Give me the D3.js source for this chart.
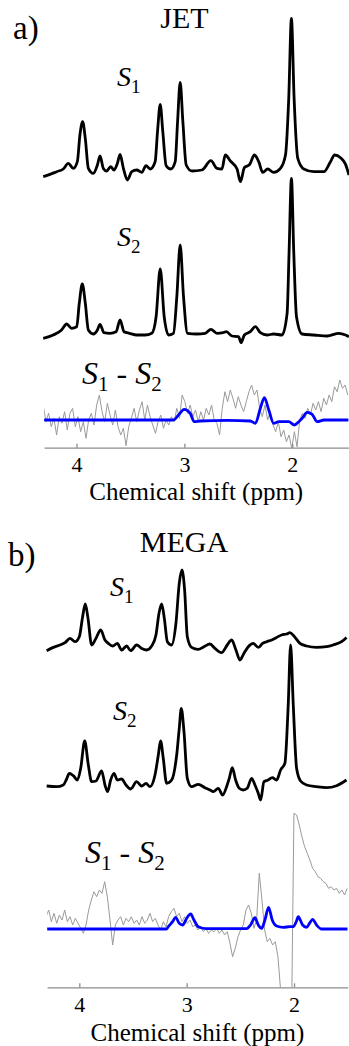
<!DOCTYPE html>
<html>
<head>
<meta charset="utf-8">
<script src="https://cdn.jsdelivr.net/npm/d3@7"></script>
<style>
  body { margin: 0; background: #fff; }
  svg { display: block; }
  text { font-family: "Liberation Serif", "Times New Roman", serif; fill: #000; white-space: pre; }
</style>
</head>
<body>
<svg id="chart" width="349" height="1046"></svg>
<script>
// ---- data (ppm, intensity a.u.) ----
const ppmTicks = [4, 3, 2];
const axisTitle = "Chemical shift (ppm)";

const jetS1 = [[4.308,-5],[4.246,-2.7],[4.184,0],[4.122,2.7],[4.076,8.3],[4.029,3.3],[3.992,10],[3.968,36.7],[3.943,50],[3.918,33],[3.890,3.3],[3.844,-1.7],[3.806,6.7],[3.782,15.7],[3.751,3.3],[3.720,0.7],[3.683,5],[3.652,1.7],[3.621,8.3],[3.596,17.3],[3.565,3.3],[3.528,-8.3],[3.488,0],[3.441,1.7],[3.395,-0.7],[3.355,6],[3.317,2.7],[3.271,10],[3.249,40],[3.224,67.3],[3.200,40],[3.169,6],[3.125,2.7],[3.085,10],[3.063,50],[3.039,89.3],[3.014,50],[2.983,6.7],[2.930,0.7],[2.838,1.7],[2.754,11],[2.698,3.3],[2.652,2.7],[2.621,16.7],[2.574,10.7],[2.512,2.7],[2.481,-10],[2.444,4],[2.395,7.3],[2.351,16.7],[2.311,10],[2.274,-0.7],[2.228,2.7],[2.172,-0.7],[2.110,3.3],[2.063,16.7],[2.033,73],[2.008,153.3],[1.983,73],[1.949,13.3],[1.893,2.7],[1.800,0],[1.707,0],[1.646,10],[1.608,16.7],[1.553,14],[1.506,7.3],[1.475,-3.3]];

const jetS2 = [[4.308,-3.3],[4.215,0],[4.138,5],[4.091,11],[4.045,6.7],[3.998,8.3],[3.974,31.7],[3.946,51],[3.918,31.7],[3.890,5],[3.844,1],[3.806,5],[3.782,10.7],[3.745,2.3],[3.689,1.7],[3.633,3.3],[3.596,15],[3.559,3.3],[3.509,1.7],[3.441,0],[3.364,0],[3.302,1.7],[3.262,18.3],[3.224,66],[3.187,18.3],[3.147,0],[3.101,1.7],[3.070,38.3],[3.039,90],[3.008,38.3],[2.971,1.7],[2.884,1],[2.807,1.7],[2.754,5.7],[2.698,1.7],[2.642,2.3],[2.611,3.3],[2.559,-1],[2.497,-1.7],[2.475,-7.7],[2.444,0],[2.389,3.3],[2.342,8.3],[2.296,2.3],[2.234,0],[2.172,1],[2.095,0],[2.048,21.7],[2.030,81.7],[2.008,156.7],[1.986,81.7],[1.961,18.3],[1.909,1],[1.800,0],[1.677,-1],[1.568,1.7],[1.506,0],[1.475,-1.7]];

const jetFit = [[4.30,0],[3.101,0],[3.054,5],[3.002,10.7],[2.946,6.7],[2.909,-1.7],[2.853,-1],[2.605,-0.3],[2.389,-1],[2.342,-3.3],[2.296,11.7],[2.259,22.3],[2.218,10],[2.172,-3.3],[2.125,-1.7],[2.033,-1.7],[1.980,-5],[1.940,-1.7],[1.909,1.7],[1.862,7.7],[1.816,5.7],[1.769,-1.7],[1.707,0],[1.475,0]];

// difference spectrum, sampled on a regular ppm grid
const jetDiffStart = 4.308, jetDiffStep = 0.02476;
const jetDiff = [15,-1.7,6.7,-6.7,1.7,-15,3.3,-3.3,8.3,-10,6.7,11.7,-6.7,3.3,-11.7,-1.7,-18.3,0,6.7,-5,15,25,8.3,-1.7,16.7,5,-5,10,-6.7,-15,-8.3,-25.7,-6.7,1.7,11.7,-1.7,10,18.3,0,15,3.3,-5,-13.3,-1.7,5,-8.3,0,-5,3.3,-1.7,11.7,1.7,25,18.3,6.7,15,3.3,10,-1.7,8.3,0,11.7,5,15,0,-3.3,-15,11.7,28.3,18.3,30,21.7,11.7,23.3,15,8.3,18.3,28.3,35,25,30,11.7,3.3,15,0,8.3,-5,-11.7,-1.7,-16.7,-10,-21.7,-15,-28.3,-11.7,-26.7,0,6.7,1.7,11.7,5,16.7,10,18.3,8.3,21.7,15,25,18.3,33.3,28.3,40,31.7,35,25];

const megaS1 = [[4.304,-4],[4.242,-0.7],[4.180,1.7],[4.133,4],[4.087,8.3],[4.040,5],[4.000,10],[3.969,30],[3.944,42.7],[3.919,28.3],[3.885,1.7],[3.845,8.3],[3.801,16.7],[3.761,6.7],[3.730,3.3],[3.689,0.7],[3.646,3.3],[3.606,-3.3],[3.559,0.7],[3.522,-4],[3.466,1.7],[3.419,-1.7],[3.373,-3.3],[3.326,0.7],[3.286,11.7],[3.258,33.3],[3.233,42.7],[3.208,28.3],[3.180,5],[3.140,1.7],[3.100,23.3],[3.069,63.3],[3.044,76.7],[3.019,56.7],[2.994,10],[2.954,-0.7],[2.892,-2.7],[2.839,0],[2.783,2.7],[2.737,-1.7],[2.675,-6],[2.622,1.7],[2.581,6.7],[2.541,-3.3],[2.504,-13.3],[2.467,-6.7],[2.426,0],[2.380,3.3],[2.333,-0.7],[2.293,3.3],[2.256,5],[2.209,6.7],[2.162,9.3],[2.116,11.7],[2.069,12.7],[2.038,14],[2.001,10.7],[1.945,3.3],[1.883,0.7],[1.790,-0.7],[1.697,0],[1.635,1.7],[1.557,5],[1.511,9.3]];

const megaS2 = [[4.304,0],[4.211,-0.7],[4.149,1],[4.118,7],[4.093,12.7],[4.056,10.3],[4.018,6],[3.987,17.7],[3.950,45],[3.916,21],[3.885,4.3],[3.845,5],[3.792,15],[3.761,1],[3.736,-5.7],[3.708,6],[3.677,12.7],[3.646,6],[3.606,7],[3.565,1],[3.522,-3],[3.466,4.3],[3.419,0],[3.379,2.7],[3.342,-0.7],[3.295,11],[3.264,31],[3.243,45],[3.218,27.7],[3.187,2.7],[3.140,6],[3.093,31],[3.069,57.7],[3.050,77.7],[3.025,54.3],[2.994,7.7],[2.954,-0.7],[2.892,1.7],[2.830,-1.7],[2.783,-4],[2.752,-5.7],[2.706,-2.3],[2.665,-9],[2.628,-0.7],[2.603,7.7],[2.575,18.3],[2.544,6],[2.510,-2.3],[2.473,-4],[2.436,-2.3],[2.395,7.7],[2.364,1],[2.333,-7.3],[2.311,-14],[2.280,4.3],[2.240,6],[2.203,8.3],[2.162,6],[2.125,16],[2.085,22.7],[2.054,81],[2.032,141],[2.007,81],[1.976,17.7],[1.939,5],[1.883,1],[1.790,-0.7],[1.697,-1.7],[1.604,0.3],[1.511,6]];

const megaFit = [[4.30,0],[3.187,0],[3.171,2.3],[3.131,7.3],[3.103,11.7],[3.069,5.7],[3.038,4],[3.000,10.7],[2.963,15],[2.932,9],[2.892,2.3],[2.814,0.3],[2.442,0.3],[2.405,4],[2.364,11.3],[2.333,4],[2.302,0.7],[2.271,9],[2.237,21.7],[2.203,9],[2.162,3],[2.100,1.7],[2.038,2.3],[2.007,2.3],[1.976,8.3],[1.961,12.3],[1.920,4],[1.883,1.7],[1.852,6.3],[1.827,9.7],[1.790,4],[1.743,0],[1.50,0]];

const megaDiffStart = 4.310, megaDiffStep = 0.02483;
const megaDiff = [12.3,19,7.3,15.7,5.7,14,9,19,7.3,12.3,4,10.7,5.7,0.7,-4.3,4,19,29,37.3,32.3,39,35.7,47.3,32.3,9,-16,4,9,12.3,4,10.7,7.3,12.3,5.7,9,4,12.3,5.7,9,15.7,7.3,10.7,4,-1,7.3,2.3,12.3,17.3,20.7,12.3,15.7,7.3,12.3,5.7,9,2.3,4,-1,2.3,-2.7,0.7,-4.3,-1,-2.7,0.7,-4.3,-1,-6,-2.7,-14.3,-27.7,-19.3,-7.7,-1,4,19,24,15.7,0.7,9,55.7,29,-1,-12.7,-9.3,-16,-12.7,-27.7,-61,-81,-97.7,-107.7,-114.3,115.7,114,104,92.3,82.3,75.7,69,60.7,57.3,52.3,50.7,47.3,45.7,40.7,42.3,39,40.7,35.7,39,34,40.7];

// ---- layout ----
const panels = [
  { tag: "a)", title: "JET", domain: [4.3, 1.48], range: [44.1, 348.4], axisY: 447.7,
    tagAt: [13, 39], titleAt: [184.5, 28], xTitleY: 500,
    spectra: [
      { data: jetS1, y0: 171.7, sub: "1", at: [117, 86] },
      { data: jetS2, y0: 335, sub: "2", at: [117, 246] }
    ],
    diff: { values: jetDiff, start: jetDiffStart, step: jetDiffStep, fit: jetFit, y0: 420, at: [82, 384] } },
  { tag: "b)", title: "MEGA", domain: [4.3, 1.5], range: [47.1, 347.7], axisY: 987.3,
    tagAt: [8, 566], titleAt: [184, 551.5], xTitleY: 1041,
    spectra: [
      { data: megaS1, y0: 646.7, sub: "1", at: [110, 596] },
      { data: megaS2, y0: 786, sub: "2", at: [113, 720] }
    ],
    diff: { values: megaDiff, start: megaDiffStart, step: megaDiffStep, fit: megaFit, y0: 929, at: [85, 863] } }
];

const svg = d3.select("#chart");
const defs = svg.append("defs");

function sLabel(g, at, parts, big, small) {
  const t = g.append("text").attr("x", at[0]).attr("y", at[1]).style("font-size", big + "px");
  let shifted = false;
  parts.forEach(p => {
    if (p.type === "S") {
      t.append("tspan").text("S").style("font-style", "italic")
        .attr("dy", shifted ? -7 : null);
      shifted = false;
    } else if (p.type === "sub") {
      t.append("tspan").text(p.text).style("font-size", small + "px").attr("dy", 7);
      shifted = true;
    } else {
      t.append("tspan").text(p.text).attr("dy", shifted ? -7 : null);
      shifted = false;
    }
  });
}

panels.forEach((p, pi) => {
  const x = d3.scaleLinear().domain(p.domain).range(p.range);
  const g = svg.append("g");

  g.append("text").attr("x", p.tagAt[0]).attr("y", p.tagAt[1])
    .style("font-size", "33px").text(p.tag);
  g.append("text").attr("x", p.titleAt[0]).attr("y", p.titleAt[1])
    .attr("text-anchor", "middle").style("font-size", "30px").text(p.title);

  // stacked spectra
  p.spectra.forEach(s => {
    const y = d3.scaleLinear().domain([0, 100]).range([s.y0, s.y0 - 100]);
    const line = d3.line().x(d => x(d[0])).y(d => y(d[1])).curve(d3.curveMonotoneX);
    g.append("path").datum(s.data).attr("d", line)
      .attr("fill", "none").attr("stroke", "#000").attr("stroke-width", 2.8)
      .attr("stroke-linejoin", "round");
    sLabel(g, s.at, [{ type: "S" }, { type: "sub", text: s.sub }], 28, 19);
  });

  // difference spectrum + fit, clipped at the axis
  const d = p.diff;
  const clipId = "clip" + pi;
  defs.append("clipPath").attr("id", clipId).append("rect")
    .attr("x", p.range[0]).attr("y", p.axisY - 200)
    .attr("width", p.range[1] - p.range[0]).attr("height", 200);
  const yd = d3.scaleLinear().domain([0, 100]).range([d.y0, d.y0 - 100]);
  const diffPts = d.values.map((v, i) => [d.start - i * d.step, v]);
  const gc = g.append("g").attr("clip-path", `url(#${clipId})`);
  gc.append("path").datum(diffPts)
    .attr("d", d3.line().x(q => x(q[0])).y(q => yd(q[1])))
    .attr("fill", "none").attr("stroke", "#9a9a9a").attr("stroke-width", 1);
  gc.append("path").datum(d.fit)
    .attr("d", d3.line().x(q => x(q[0])).y(q => yd(q[1])).curve(d3.curveMonotoneX))
    .attr("fill", "none").attr("stroke", "#0000ff").attr("stroke-width", 2.8)
    .attr("stroke-linejoin", "round");
  sLabel(g, d.at, [{ type: "S" }, { type: "sub", text: "1" }, { type: "txt", text: " - " },
                   { type: "S" }, { type: "sub", text: "2" }], 32, 21);

  // ppm axis
  const ax = g.append("g").attr("transform", `translate(0,${p.axisY})`)
    .call(d3.axisBottom(x).tickValues(ppmTicks).tickFormat(d3.format("d"))
      .tickSizeInner(-4).tickSizeOuter(0).tickPadding(9));
  ax.select(".domain").attr("stroke", "#8c8c8c").attr("stroke-width", 1.3);
  ax.selectAll(".tick line").attr("stroke", "#8c8c8c").attr("stroke-width", 1.3);
  ax.selectAll(".tick text").attr("fill", "#000")
    .style("font-family", '"Liberation Serif", serif').style("font-size", "22px");
  g.append("text").attr("x", (p.range[0] + p.range[1]) / 2).attr("y", p.xTitleY)
    .attr("text-anchor", "middle").style("font-size", "25px").text(axisTitle);
});
</script>
</body>
</html>
